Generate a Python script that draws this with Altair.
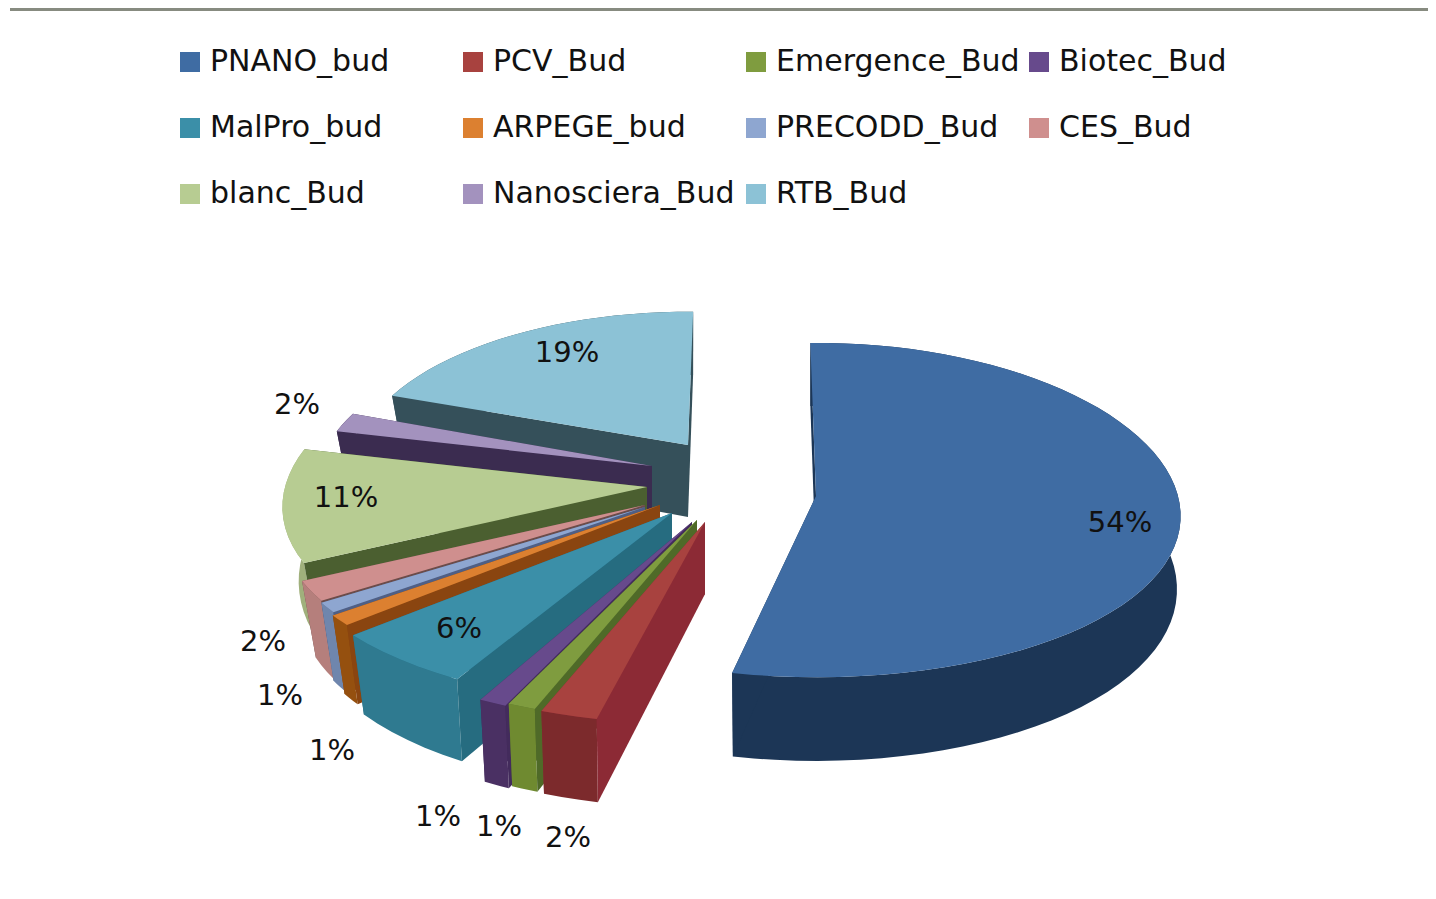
import math
import altair as alt

names = ["PNANO_bud", "PCV_Bud", "Emergence_Bud", "Biotec_Bud", "MalPro_bud", "ARPEGE_bud",
         "PRECODD_Bud", "CES_Bud", "blanc_Bud", "Nanosciera_Bud", "RTB_Bud"]
percents = [54, 2, 1, 1, 6, 1, 1, 2, 11, 2, 19]
labels = ["54%", "2%", "1%", "1%", "6%", "1%", "1%", "2%", "11%", "2%", "19%"]
top_colors = ["#3f6ca3", "#a8423f", "#7f9c3f", "#674a8c", "#3b8fa8", "#dc8030",
              "#8ea6d0", "#cf8f8e", "#b7cc92", "#a392be", "#8cc2d6"]
arc_colors = ["#1c3656", "#7c2a2c", "#6f8a30", "#4a3063", "#2f7a90", "#95500f",
              "#6f86ad", "#b57f7c", "#a0b07c", "#3b2c50", "#35505a"]
cut_colors = ["#1c3656", "#8c2a35", "#4f6a28", "#432b5c", "#266c80", "#8a4510",
              "#4f5f85", "#6b4c4a", "#4b5f30", "#3b2c50", "#35505a"]
# pull-out of each slice from the pie centre, in pixels
pull_x = [104, -7, -15, -20, -40, -52, -67, -67, -65, -60, -24]
pull_y = [6, 32, 30, 32, 23, 15, 17, 15, -3, -24, -45]
# drawn size of each slice relative to the pie radius, across and along the view
size_x = [1.0, 1.14, 1.13, 1.12, 1.07, 1.05, 1.0, 1.0, 1.0, 0.92, 0.91]
size_y = [1.0, 1.12, 1.12, 1.12, 1.07, 1.05, 1.0, 1.0, 1.0, 0.92, 0.87]
# angular trims in degrees: the rounded labels hide the exact shares
trim_start = [0, 0, 0, 0, 2, 0, 0, 0, 0, 0, 0]
trim_end = [1.6, 0, 0, 0, 0, 0, 0, 0, 0, 0, -2]
paint_order = [10, 9, 8, 7, 6, 5, 4, 3, 2, 1, 0]
label_x = [1120, 568, 499, 438, 459, 332, 280, 263, 346, 297, 567]
label_y = [523, 838, 827, 817, 629, 751, 696, 642, 498, 405, 353]

PAGE = 8
CX, CY = 712, 490
RX, RY = 362, 166
PX, PY = 0.12, 0.084
DEPTH = 72


def ring(points):
    pts = [list(p) for p in points]
    return pts + [pts[0]]


def feature(points, part):
    return {"type": "Feature", "properties": {"part": part},
            "geometry": {"type": "Polygon", "coordinates": [ring(points)]}}


def slice_features(i, start, sweep):
    name = names[i]
    ax, ay = CX + pull_x[i] - PAGE, CY + pull_y[i] - PAGE
    steps = max(3, int(sweep / 3))
    arc, low, vs = [], [], []
    for k in range(steps + 1):
        t = math.radians(start + sweep * k / steps)
        u, v = math.sin(t), -math.cos(t)
        x = ax + size_x[i] * RX * u / (1 - PX * v)
        y = ay + size_y[i] * RY * v / (1 - PY * v)
        arc.append((x, y))
        shrink = 0.99 if u > 0 else 1 - 0.045 * abs(u)
        low.append((ax + (x - ax) * shrink, y + DEPTH / (1 - 0.14 * v)))
        vs.append(v)
    apex = (ax, ay)
    apex_low = (ax, ay + DEPTH)
    first = feature([apex, arc[0], low[0], apex_low], name + " cut")
    last = feature([apex, arc[-1], low[-1], apex_low], name + " cut")
    far, near = (first, last) if vs[0] < vs[-1] else (last, first)
    return [far, feature(arc + low[::-1], name + " arc"), near, feature([apex] + arc, name)]


starts, acc = [], -1.0
for p in percents:
    starts.append(acc)
    acc += p * 3.6

features = []
for i in paint_order:
    features += slice_features(i, starts[i] + trim_start[i],
                               percents[i] * 3.6 - trim_start[i] - trim_end[i])

domain = names + [n + " arc" for n in names] + [n + " cut" for n in names]
color_range = top_colors + arc_colors + cut_colors

pie = alt.Chart(alt.Data(values=features)).mark_geoshape(stroke=None, strokeWidth=0).encode(
    color=alt.Color("properties.part:N", scale=alt.Scale(domain=domain, range=color_range),
                    legend=alt.Legend(values=names, title=None, orient="none", legendX=167, legendY=39,
                                      direction="horizontal", columns=4, gridAlign="all",
                                      symbolType="square", symbolSize=400,
                                      symbolStrokeWidth=0, labelFont="DejaVu Sans", labelFontSize=30,
                                      labelColor="#111111", labelLimit=300, labelOffset=5,
                                      columnPadding=4, rowPadding=36, symbolOpacity=1))
).project(type="identity", scale=1, translate=[0, 0])

text_rows = [{"label": labels[i], "x": label_x[i] - PAGE, "y": label_y[i] - PAGE} for i in range(len(labels))]
text = alt.Chart(alt.Data(values=text_rows)).mark_text(font="DejaVu Sans", fontSize=29, color="#111111",
                                                       align="center", baseline="middle").encode(
    x=alt.X("x:Q", scale=None, axis=None),
    y=alt.Y("y:Q", scale=None, axis=None),
    text="label:N",
)

top_rule = alt.Chart(alt.Data(values=[{"a": 1}])).mark_rule(color="#878b80", strokeWidth=3).encode(
    x=alt.value(2), x2=alt.value(1420), y=alt.value(1.5))

chart = alt.layer(pie, text, top_rule).properties(width=1420, height=883, padding=0, background="#ffffff",
                                                  autosize=alt.AutoSizeParams(type="none")).configure_view(stroke=None)
chart.save("out.html", embed_options={"renderer": "svg", "actions": False})
